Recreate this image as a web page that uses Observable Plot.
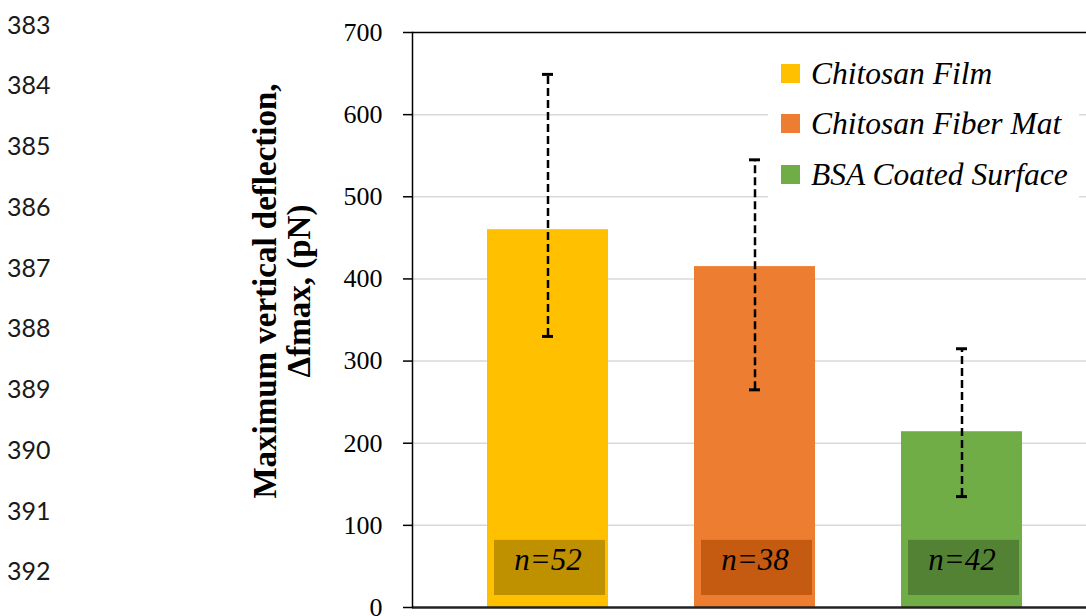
<!DOCTYPE html>
<html>
<head>
<meta charset="utf-8">
<script src="https://cdn.jsdelivr.net/npm/d3@7"></script>
<script src="https://cdn.jsdelivr.net/npm/@observablehq/plot@0.6"></script>
<style>
  html, body { margin: 0; padding: 0; background: #fff; overflow: hidden; }
  #wrap { position: relative; width: 1086px; height: 616px; }
  .ln { position: absolute; left: 7px; font-family: Lato, "Open Sans", sans-serif; font-size: 25px; line-height: 1; color: #1a1a1a; }
  #legend { position: absolute; left: 768px; top: 48px; width: 311px; background: #fff; padding-bottom: 6px; }
  .lg-row { display: flex; align-items: center; height: 50.5px; }
  .lg-sw { width: 19px; height: 19px; margin-left: 13px; margin-right: 11px; flex: none; }
  .lg-tx { font-family: "Liberation Serif", serif; font-style: italic; font-size: 31.5px; line-height: 1; color: #000; white-space: nowrap; }
  svg.chart text { font-family: "Liberation Serif", serif; }
</style>
</head>
<body>
<div id="wrap"></div>
<script>
// ---- data ----
const categories = ["Chitosan Film", "Chitosan Fiber Mat", "BSA Coated Surface"];
const means = [460, 415, 214];
const errLow = [330, 265, 135];
const errHigh = [649, 545, 315];
const counts = [52, 38, 42];
const yTicks = [0, 100, 200, 300, 400, 500, 600, 700];
const lineNumbers = [383, 384, 385, 386, 387, 388, 389, 390, 391, 392];
const barColors = ["#FFC000", "#ED7D31", "#70AD47"];
const boxColors = ["#BF9000", "#C55A11", "#548235"];

const data = categories.map((c, i) => ({category: c, mean: means[i], low: errLow[i], high: errHigh[i], n: counts[i]}));
const boxFill = new Map(categories.map((c, i) => [c, boxColors[i]]));

const wrap = document.getElementById("wrap");

const chart = Plot.plot({
  width: 1086,
  height: 616,
  marginLeft: 412,
  marginRight: 0,
  marginTop: 32,
  marginBottom: 9,
  className: "chart",
  style: "font-family: 'Liberation Serif', serif; font-size: 26px; color: #000; background: #fff; overflow: visible;",
  x: {domain: categories, paddingInner: 0.417, paddingOuter: 0.3326, align: 0.536, axis: null},
  y: {domain: [0, 700]},
  color: {domain: categories, range: barColors},
  marks: [
    Plot.gridY(yTicks.filter(t => t > 0 && t < 700), {stroke: "#D9D9D9", strokeOpacity: 1, strokeWidth: 1.5}),
    Plot.barY(data, {x: "category", y: "mean", fill: "category"}),
    Plot.barY(data, {x: "category", y1: 0, y2: yTicks[1], insetTop: 15, insetBottom: 12, insetLeft: 7, insetRight: 3, fill: d => boxFill.get(d.category)}),
    Plot.text(data, {x: "category", frameAnchor: "bottom", dy: -38, text: d => `n=${d.n}`, fontStyle: "italic", fontSize: 31, fill: "#000"}),
    Plot.ruleX(data, {x: "category", y1: "low", y2: "high", stroke: "#000", strokeWidth: 2.5, strokeDasharray: "8,4"}),
    Plot.tickY(data, {x: "category", y: "high", insetLeft: 55, insetRight: 55, stroke: "#000", strokeWidth: 3}),
    Plot.tickY(data, {x: "category", y: "low", insetLeft: 55, insetRight: 55, stroke: "#000", strokeWidth: 3}),
    Plot.ruleY([700], {stroke: "#000", strokeWidth: 1.5}),
    Plot.ruleY([0], {stroke: "#222", strokeWidth: 2.5}),
    Plot.frame({anchor: "left", stroke: "#000", strokeWidth: 1.5}),
    Plot.axisY({ticks: yTicks, tickSize: 9, tickPadding: 21, strokeWidth: 1.5, label: null, fontSize: 26}),
    Plot.text(["Maximum vertical deflection,\nΔfmax, (pN)"], {
      frameAnchor: "left", textAnchor: "middle", rotate: -90, dx: -130, dy: -29,
      fontWeight: "bold", fontSize: 33, lineHeight: 1.03, fill: "#000"
    })
  ]
});
chart.style.position = "absolute";
chart.style.left = "0px";
chart.style.top = "0px";
wrap.appendChild(chart);

// manuscript line numbers
lineNumbers.forEach((n, i) => {
  const d = document.createElement("div");
  d.className = "ln";
  d.textContent = n;
  d.style.top = (24.5 + i * 60.75 - 13) + "px";
  wrap.appendChild(d);
});

// legend
const legend = document.createElement("div");
legend.id = "legend";
categories.forEach((c, i) => {
  const row = document.createElement("div");
  row.className = "lg-row";
  const sw = document.createElement("div");
  sw.className = "lg-sw";
  sw.style.background = barColors[i];
  const tx = document.createElement("div");
  tx.className = "lg-tx";
  tx.textContent = c;
  row.appendChild(sw);
  row.appendChild(tx);
  legend.appendChild(row);
});
wrap.appendChild(legend);
</script>
</body>
</html>
